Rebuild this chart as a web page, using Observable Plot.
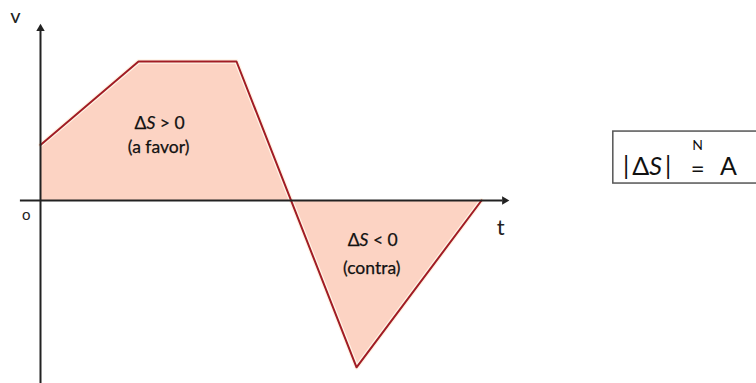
<!DOCTYPE html>
<html>
<head>
<meta charset="utf-8">
<script src="https://cdn.jsdelivr.net/npm/d3@7"></script>
<script src="https://cdn.jsdelivr.net/npm/@observablehq/plot@0.6"></script>
<style>
  html, body { margin: 0; padding: 0; background: #fff; }
  #chart svg { display: block; }
</style>
</head>
<body>
<div id="chart"></div>
<script>
// Velocity–time graph data (t in arbitrary units, v in arbitrary units)
const times = [0, 2, 4, 6.45, 9];
const velocities = [2, 5, 5, -6, 0];

// Axis extents
const xAxisStart = -0.41, xAxisEnd = 9.55, xArrowTip = 9.55;
const yAxisBottom = -7, yAxisEnd = 6.3, yArrowTip = 6.3;

// Area labels
const areaLabelText = ["ΔS > 0", "(a favor)", "ΔS < 0", "(contra)"];
const areaLabelT = [2.43, 2.41, 6.78, 6.76];
const areaLabelV = [2.77, 1.91, -1.44, -2.45];

// Axis labels
const axisLabelText = ["v", "o", "t"];
const axisLabelT = [-0.51, -0.29, 9.39];
const axisLabelV = [6.6, -0.54, -0.97];
const axisLabelSize = [20, 15, 22];

// Formula box
const boxRect = [{x1: 11.69, x2: 16, y1: 0.61, y2: 2.48}];
const formulaText = ["|\u2009ΔS\u2009|", "N", "=", "A"];
const formulaT = [12.38, 13.41, 13.41, 14.04];
const formulaV = [1.22, 1.98, 1.13, 1.22];
const formulaSize = [25, 14, 24, 25];

const data = times.map((t, i) => ({t, v: velocities[i]}));
const areaLabels = areaLabelText.map((s, i) => ({s, t: areaLabelT[i], v: areaLabelV[i]}));
const axisLabels = axisLabelText.map((s, i) => ({s, t: axisLabelT[i], v: axisLabelV[i], size: axisLabelSize[i]}));
const formula = formulaText.map((s, i) => ({s, t: formulaT[i], v: formulaV[i], size: formulaSize[i]}));

const W = 756, H = 383;
const axisColor = "#222";
const font = "Lato, 'Open Sans', sans-serif";

const chart = Plot.plot({
  width: W,
  height: H,
  margin: 0,
  style: {fontFamily: font, background: "#fff"},
  x: {domain: [-40/49, 716/49], axis: null},
  y: {domain: [-183/27.8, 200/27.8], axis: null},
  marks: [
    Plot.areaY(data, {x: "t", y: "v", fill: "#fcd3c3"}),
    Plot.line(data, {x: "t", y: "v", stroke: "#fff4e6", strokeWidth: 4.5}),
    Plot.line(data, {x: "t", y: "v", stroke: "#a11c24", strokeWidth: 2}),
    Plot.ruleY([0], {x1: xAxisStart, x2: xAxisEnd - 0.12, stroke: axisColor, strokeWidth: 2}),
    Plot.ruleX([0], {y1: yAxisBottom, y2: yAxisEnd - 0.2, stroke: axisColor, strokeWidth: 2}),
    Plot.dot([{t: xArrowTip - 0.08, v: 0}], {x: "t", y: "v", symbol: "triangle2", r: 4, fill: axisColor, rotate: 90}),
    Plot.dot([{t: 0, v: yArrowTip - 0.12}], {x: "t", y: "v", symbol: "triangle2", r: 4, fill: axisColor}),
    Plot.text(areaLabels, {x: "t", y: "v", text: "s", fontSize: 17.5, fill: "#111", stroke: "#111", strokeWidth: 0.25, className: "math-label"}),
    Plot.text(axisLabels, {x: "t", y: "v", text: "s", fontSize: "size", fill: "#222"}),
    Plot.rect(boxRect, {x1: "x1", x2: "x2", y1: "y1", y2: "y2", fill: "none", stroke: "#555", strokeWidth: 1.5}),
    Plot.text(formula, {x: "t", y: "v", text: "s", fontSize: "size", fill: "#111", className: "math-label"})
  ]
});

// Italicise the S in ΔS
chart.querySelectorAll(".math-label text").forEach(node => {
  const s = node.textContent;
  const idx = s.indexOf("S");
  if (s.includes("Δ") && idx >= 0) {
    node.textContent = "";
    const ns = "http://www.w3.org/2000/svg";
    const a = document.createElementNS(ns, "tspan"); a.textContent = s.slice(0, idx);
    const b = document.createElementNS(ns, "tspan"); b.textContent = "S"; b.setAttribute("font-style", "italic");
    const c = document.createElementNS(ns, "tspan"); c.textContent = s.slice(idx + 1);
    node.append(a, b, c);
  }
});

document.getElementById("chart").append(chart);
</script>
</body>
</html>
